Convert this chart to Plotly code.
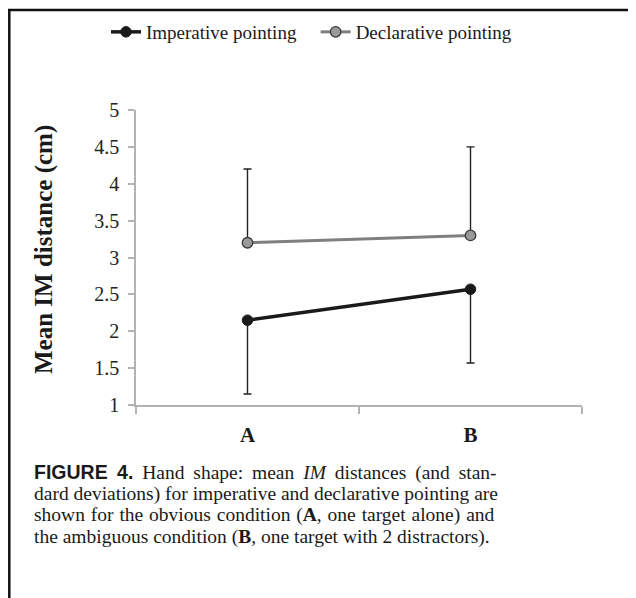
import plotly.graph_objects as go

categories = ["A", "B"]
imperative = [2.15, 2.57]
imperative_sd = [1.0, 1.0]
declarative = [3.2, 3.3]
declarative_sd = [1.0, 1.2]
y_ticks = [1, 1.5, 2, 2.5, 3, 3.5, 4, 4.5, 5]
y_tick_labels = ["1", "1.5", "2", "2.5", "3", "3.5", "4", "4.5", "5"]

# page body has an 8px margin, so the figure is drawn offset by 8px
OFF = 8
W, H = 636, 598
L, R, T, B = 136 - OFF, 62, 110 - OFF, 201
PW, PH = W - L - R, H - T - B

def px(x):  # reference-pixel x -> paper
    return (x - OFF - L) / PW

def py(y):  # reference-pixel y -> paper
    return (H - B - (y - OFF)) / PH

SERIF = "Liberation Serif"
SANS = "Liberation Sans"
NB = "\u00a0"

fig = go.Figure()
fig.add_trace(go.Scatter(
    x=categories, y=imperative, name="Imperative pointing" + NB * 3, mode="lines+markers",
    line=dict(color="#1a1a1a", width=3.5),
    marker=dict(size=10.5, color="#1a1a1a", line=dict(color="#1a1a1a", width=1)),
    error_y=dict(type="data", symmetric=False, array=[0, 0], arrayminus=imperative_sd,
                 color="#222222", thickness=1.4, width=4),
))
fig.add_trace(go.Scatter(
    x=categories, y=declarative, name="Declarative pointing", mode="lines+markers",
    line=dict(color="#7f7f7f", width=3),
    marker=dict(size=10.5, color="#9a9a9a", line=dict(color="#3a3a3a", width=1.3)),
    error_y=dict(type="data", symmetric=False, array=declarative_sd, arrayminus=[0, 0],
                 color="#222222", thickness=1.4, width=4),
))

axis_gray = "#b3b3b3"
fig.update_xaxes(
    type="category", range=[-0.5, 1.5], showline=True, linecolor=axis_gray, linewidth=1.5,
    ticks="outside", ticklen=7, tickcolor=axis_gray, tickwidth=1.5, tickson="boundaries",
    showgrid=False, zeroline=False,
    tickfont=dict(family=SERIF, size=21, color="#1a1a1a", weight="bold"),
    ticklabelstandoff=10,
)
fig.update_yaxes(
    range=[1, 5], tickvals=y_ticks, ticktext=y_tick_labels,
    showline=True, linecolor=axis_gray, linewidth=1.5,
    ticks="outside", ticklen=6, tickcolor=axis_gray, tickwidth=1.5,
    showgrid=False, zeroline=False,
    tickfont=dict(family=SERIF, size=20, color="#222222"),
    ticklabelstandoff=5,
)

# y-axis title placed precisely
fig.add_annotation(text="<b>Mean IM distance (cm)</b>", xref="paper", yref="paper",
                   x=px(44), y=py(250), xanchor="center", yanchor="middle", textangle=-90,
                   showarrow=False, font=dict(family=SERIF, size=25, color="#1a1a1a"))

# frame (clipped on right and bottom)
fig.add_shape(type="line", xref="paper", yref="paper", x0=px(8), x1=px(660), y0=py(10), y1=py(10),
              line=dict(color="#111111", width=2.5))
fig.add_shape(type="line", xref="paper", yref="paper", x0=px(9.3), x1=px(9.3), y0=py(10), y1=py(620),
              line=dict(color="#111111", width=2.5))

caption_lines = [
    "<span style=\"font-family:'Liberation Sans';word-spacing:4px\"><b>FIGURE 4.</b></span>"
    "<span style=\"word-spacing:4px\"> Hand shape: mean <i>IM</i> distances (and stan-</span>",
    "dard deviations) for imperative and declarative pointing are",
    "<span style=\"word-spacing:1px\">shown for the obvious condition (<b>A</b>, one target alone) and</span>",
    "the ambiguous condition (<b>B</b>, one target with 2 distractors).",
]
caption_y = [472, 493.5, 515, 536.5]
for txt, yy in zip(caption_lines, caption_y):
    fig.add_annotation(text=txt, xref="paper", yref="paper", x=px(32), y=py(yy),
                       xanchor="left", yanchor="middle", showarrow=False,
                       font=dict(family=SERIF, size=19.5, color="#1a1a1a"))

fig.update_layout(
    width=W, height=H, margin=dict(l=L, r=R, t=T, b=B, autoexpand=False),
    paper_bgcolor="white", plot_bgcolor="white",
    legend=dict(orientation="h", x=px(106), y=py(32), xanchor="left", yanchor="middle",
                font=dict(family=SERIF, size=19, color="#1a1a1a"), itemwidth=30,
                bgcolor="rgba(0,0,0,0)"),
    showlegend=True,
)

fig.write_html("out.html")
